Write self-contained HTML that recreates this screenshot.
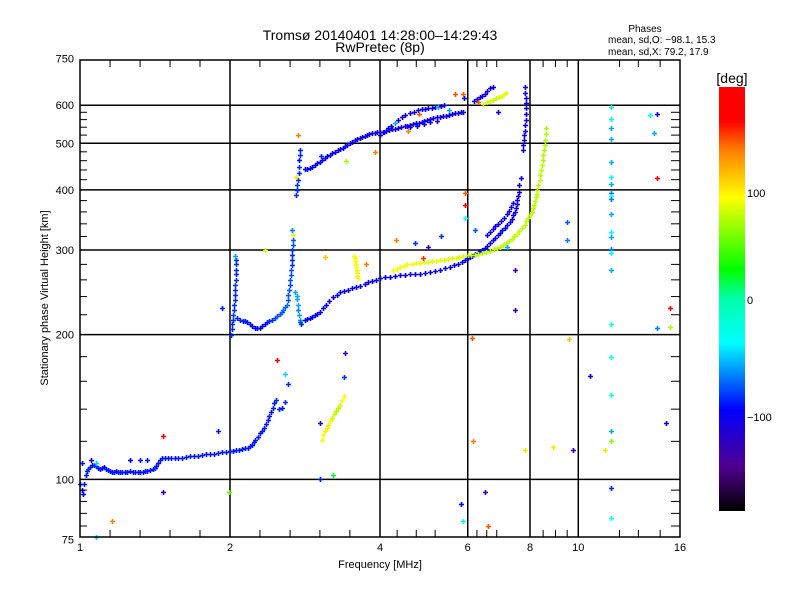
<!DOCTYPE html>
<html><head><meta charset="utf-8"><style>
body{margin:0;background:#fff;}
svg{display:block;font-family:"Liberation Sans",sans-serif;}
</style></head><body>
<svg id="chart" width="800" height="600" viewBox="0 0 800 600" xmlns="http://www.w3.org/2000/svg">
<defs>
<linearGradient id="cbg" x1="0" y1="1" x2="0" y2="0">
<stop offset="0" stop-color="#000000"/>
<stop offset="0.105" stop-color="#500090"/>
<stop offset="0.24" stop-color="#0000ff"/>
<stop offset="0.397" stop-color="#00ffff"/>
<stop offset="0.5" stop-color="#00ffaa"/>
<stop offset="0.57" stop-color="#00ff00"/>
<stop offset="0.74" stop-color="#ffff00"/>
<stop offset="0.85" stop-color="#ff8000"/>
<stop offset="0.92" stop-color="#ff0000"/>
<stop offset="1" stop-color="#ff0000"/>
</linearGradient>
</defs>
<text x="380" y="40" font-size="14" text-anchor="middle">Tromsø 20140401 14:28:00–14:29:43</text>
<text x="380" y="52" font-size="14" text-anchor="middle">RwPretec (8p)</text>
<g font-size="10">
<text x="645" y="32" text-anchor="middle">Phases</text>
<text x="608" y="43">mean, sd,O: −98.1, 15.3</text>
<text x="608" y="55">mean, sd,X:  79.2, 17.9</text>
</g>
<g id="grid"></g>
<g id="points"></g>
<rect x="80" y="60" width="600" height="477" fill="none" stroke="#000" stroke-width="1.5"/>
<g id="axes" font-size="11"></g>
<text x="380" y="568" font-size="11" text-anchor="middle">Frequency [MHz]</text>
<text transform="translate(48,298) rotate(-90)" font-size="11" text-anchor="middle">Stationary phase Virtual Height [km]</text>
<g>
<text x="732" y="83" font-size="14" text-anchor="middle">[deg]</text>
<rect x="719" y="87" width="26" height="424" fill="url(#cbg)"/>
<text x="747" y="197" font-size="11">100</text>
<text x="747" y="304" font-size="11">0</text>
<text x="747" y="421" font-size="11">−100</text>
</g>
</svg>
<script>
const xTicks=[1,2,4,6,8,10,16];
const xMinor=[1.149,1.32,1.516,1.741,2.297,2.64,3.03,3.48,4.33,4.73,5.16,6.26,6.55,6.86,8.5,9,9.5,12.1,13.2,14.6];
const yTicks=[75,100,200,300,400,500,600,750];
const yGrid=[100,200,300,400,500,600];
const yMinor=[80,85,90,95,120,140,160,180,220,240,260,280,320,340,360,380,420,440,460,480,520,540,560,580];
// O-mode traces [MHz, km, phase deg]
const eTrace=[[1.00,97.6,-95],[1.007,95,-100],[1.014,93.4,-100],[1.021,98,-95],[1.028,102,-95],[1.033,104,-95],[1.038,105,-90],[1.047,106,-95],[1.057,107,-95],[1.067,107,-95],[1.077,106.4,-90],[1.087,105.5,-95],[1.097,105,-95],[1.107,105.5,-95],[1.117,106,-100],[1.128,105,-95],[1.138,104.4,-95],[1.148,104,-95],[1.159,103.4,-100],[1.17,103.6,-95],[1.181,103.9,-95],[1.192,103.6,-95],[1.203,103.4,-95],[1.217,103.4,-95],[1.231,103.4,-100],[1.245,103.6,-95],[1.26,103.9,-95],[1.275,103.6,-95],[1.29,103.4,-95],[1.305,103.4,-95],[1.32,103.4,-100],[1.335,103.6,-95],[1.35,103.9,-95],[1.366,104.1,-95],[1.382,104.4,-95],[1.398,104.9,-95],[1.414,105.4,-90],[1.424,106.5,-95],[1.434,108,-95],[1.447,109.5,-95],[1.46,110.6,-95],[1.48,111,-95],[1.50,111,-95],[1.525,111,-95],[1.55,111,-95],[1.575,111,-95],[1.60,111,-95],[1.63,111.3,-95],[1.66,111.6,-95],[1.69,111.8,-95],[1.725,112,-95],[1.757,112.4,-95],[1.79,112.7,-95],[1.825,113,-95],[1.86,113.2,-95],[1.895,113.5,-95],[1.93,113.8,-95],[1.965,114,-95],[2.0,114.3,-95],[2.03,114.6,-95],[2.06,114.9,-95],[2.085,115.1,-95],[2.11,115.4,-95],[2.14,116,-95],[2.17,116.5,-95],[2.19,117.2,-95],[2.21,118,-95],[2.23,119.5,-95],[2.25,121,-95],[2.275,122.8,-95],[2.297,124.6,-95],[2.32,126.3,-95],[2.34,128,-95],[2.36,130.5,-95],[2.38,133,-95],[2.40,135.7,-95],[2.42,138.4,-95],[2.435,141,-95],[2.45,144,-95],[2.47,146.5,-90],[2.51,140,-90],[2.54,141,-95],[2.58,145,-90],[1.26,110,-100],[1.32,110,-95],[1.36,110,-95],[1.47,123,160],[1.89,126,-95],[1.077,108,-50],[1.05,110,-120],[1.01,108,-95]];
const fLow=[[2.01,200,-90],[2.015,205,-90],[2.02,210,-90],[2.025,215,-90],[2.03,220,-85],[2.035,225,-90],[2.04,231,-90],[2.045,236,-90],[2.05,242,-90],[2.05,248,-90],[2.05,254,-85],[2.055,260,-90],[2.06,267,-90],[2.06,273,-90],[2.06,280,-90],[2.055,286,-90],[2.05,292,-60],[1.93,227,-95],[2.07,217,-90],[2.094,215,-90],[2.12,214,-95],[2.14,213,-95],[2.165,212,-95],[2.19,210,-95],[2.215,208,-100],[2.24,206,-100],[2.27,206,-100],[2.297,206,-100],[2.32,208,-100],[2.35,210,-100],[2.375,212,-95],[2.4,213,-90],[2.43,215,-90],[2.46,217,-85],[2.49,219,-80],[2.52,221,-80],[2.54,223,-80],[2.56,225,-75],[2.58,228,-75],[2.6,231,-75],[2.61,236,-80],[2.62,242,-80],[2.63,248,-80],[2.64,254,-85],[2.645,260,-80],[2.65,266,-80],[2.655,272,-80],[2.66,279,-90],[2.66,286,-90],[2.66,293,-90],[2.665,300,-90],[2.67,307,-80],[2.67,315,-80],[2.67,322,85],[2.66,330,-70],[2.70,245,-60],[2.72,241,-60],[2.73,237,-60],[2.735,231,-60],[2.74,225,-70],[2.75,220,-60],[2.76,215,-60],[2.77,212,-80],[2.78,210,-90]];
const fOne=[[2.83,215,-100],[2.86,216,-100],[2.89,217,-100],[2.925,218,-100],[2.96,220,-100],[2.995,221,-100],[3.03,223,-100],[3.07,227,-100],[3.11,231,-100],[3.165,235,-100],[3.22,239,-105],[3.275,242,-105],[3.33,245,-105],[3.39,246,-105],[3.45,248,-105],[3.515,250,-105],[3.58,251,-105],[3.655,253,-105],[3.73,255,-105],[3.79,257,-105],[3.85,259,-105],[3.925,260,-105],[4.0,262,-105],[4.1,263,-105],[4.19,264,-105],[4.29,265,-105],[4.39,266,-105],[4.49,266,-105],[4.59,267,-105],[4.7,267,-105],[4.81,268,-105],[4.92,269,-105],[5.04,270,-105],[5.16,271,-105],[5.28,273,-105],[5.4,275,-105],[5.53,277,-105],[5.63,279,-105],[5.74,281,-105],[5.83,283,-105],[5.93,286,-105],[6.0,288,-105],[6.06,290,-105],[6.13,292,-105],[6.2,294,-105],[6.28,296,-105],[6.35,298,-105],[6.42,300,-105],[6.5,303,-105],[6.57,306,-105],[6.65,310,-105],[6.73,314,-105],[6.81,318,-105],[6.89,322,-105],[6.96,326,-105],[7.04,330,-105],[7.12,333,-105],[7.2,338,-105],[7.29,343,-110],[7.35,348,-110],[7.4,354,-110],[7.45,360,-110],[7.5,366,-110],[7.53,373,-110],[7.55,381,-110],[7.58,388,-110],[7.6,396,-110],[7.6,409,-110],[7.68,423,-110],[6.57,322,-110],[6.65,327,-110],[6.74,332,-110],[6.82,336,-110],[6.91,339,-110],[7.0,345,-110],[7.09,350,-110],[7.18,356,-110],[7.26,362,-110],[7.32,369,-110],[7.38,376,-110]];
const fTwo=[[2.71,390,-90],[2.72,400,-90],[2.73,409,-90],[2.74,420,-90],[2.75,433,-90],[2.75,447,-90],[2.75,461,-95],[2.76,472,-90],[2.77,484,-90],[2.71,426,100],[2.74,520,130],[2.83,442,-100],[2.86,443,-100],[2.89,444,-100],[2.925,447,-100],[2.96,450,-100],[2.995,454,-100],[3.03,458,-105],[3.065,462,-105],[3.1,466,-105],[3.135,470,-105],[3.17,473,-105],[3.21,477,-105],[3.25,480,-105],[3.29,484,-105],[3.33,487,-105],[3.365,490,-105],[3.4,494,-105],[3.44,497,-105],[3.48,500,-110],[3.52,504,-110],[3.56,508,-110],[3.6,511,-110],[3.64,513,-110],[3.685,516,-110],[3.73,518,-110],[3.77,521,-110],[3.81,523,-110],[3.855,524,-110],[3.9,525,-110],[3.95,527,-110],[4.0,528,-110],[4.055,529,-110],[4.11,530,-110],[4.17,533,-110],[4.23,535,-110],[4.29,536,-110],[4.35,537,-110],[4.41,540,-110],[4.48,542,-110],[4.53,544,-110],[4.59,545,-110],[4.65,548,-110],[4.72,551,-110],[4.78,552,-110],[4.85,553,-110],[4.91,556,-110],[4.98,559,-110],[5.05,562,-110],[5.12,564,-110],[5.2,566,-110],[5.28,567,-110],[5.35,569,-110],[5.42,570,-110],[5.5,573,-110],[5.58,575,-110],[5.66,577,-110],[5.74,578,-110],[5.81,580,-110],[5.88,581,-110],[4.0,520,-110],[4.07,528,-110],[4.15,537,-110],[4.21,544,-110],[4.28,550,-60],[4.35,559,-110],[4.42,567,-110],[4.5,573,-110],[4.59,578,-110],[4.67,582,-110],[4.76,585,-100],[4.85,588,-110],[4.93,590,-110],[5.0,592,-110],[5.08,593,-110],[5.15,595,-110],[5.23,596,-60],[5.3,599,-110],[5.38,602,-110],[4.6,540,-110],[4.75,543,-110],[4.9,548,-110],[5.05,553,-110],[5.2,556,-110],[6.17,612,-110],[6.26,618,-110],[6.35,623,-110],[6.42,628,-110],[6.5,634,-110],[6.57,642,-110],[6.65,650,-110],[6.74,656,-110],[7.82,655,-110],[7.83,637,-110],[7.84,620,-110],[7.84,606,-110],[7.84,593,-110],[7.84,576,-110],[7.84,559,-110],[7.82,545,-110],[7.8,531,-110],[7.78,519,-110],[7.77,508,-110],[7.75,496,-110],[7.73,485,-110],[5.66,634,140],[5.88,634,140],[4.55,530,130],[3.42,460,70],[3.9,480,130]];
// X-mode traces
const xTrace=[[6.0,293,75],[6.1,293,75],[6.2,293,75],[6.3,294,75],[6.4,296,75],[6.52,297,75],[6.65,299,75],[6.76,301,75],[6.87,303,75],[6.96,305,75],[7.06,307,75],[7.15,310,75],[7.25,313,75],[7.35,316,75],[7.44,320,75],[7.52,324,75],[7.6,328,75],[7.7,333,75],[7.8,338,75],[7.87,344,75],[7.94,350,75],[8.0,355,75],[8.06,360,75],[8.1,366,75],[8.14,372,75],[8.18,379,75],[8.22,386,75],[8.25,393,75],[8.28,400,75],[8.32,410,75],[8.36,420,75],[8.38,430,75],[8.4,440,75],[8.45,451,75],[8.49,462,70],[8.51,473,70],[8.53,485,70],[8.56,496,70],[8.58,508,70],[8.6,522,70],[8.62,537,70],[4.25,273,90],[4.32,274,90],[4.39,276,90],[4.46,278,90],[4.54,280,90],[4.63,281,90],[4.72,282,85],[4.81,282,85],[4.9,283,85],[4.99,283,85],[5.08,284,85],[5.18,285,85],[5.28,286,85],[5.37,286,85],[5.47,287,85],[5.57,288,85],[5.67,289,85],[5.77,290,85],[5.87,291,85],[4.88,289,150],[3.55,292,90],[3.56,288,90],[3.57,284,90],[3.575,280,90],[3.58,276,90],[3.59,272,95],[3.6,269,95],[3.605,265,95],[3.61,262,95],[6.45,604,80],[6.55,608,80],[6.65,612,80],[6.75,616,80],[6.84,620,80],[6.93,624,80],[7.03,628,85],[7.1,633,85],[7.17,637,85],[3.06,121,90],[3.08,123.5,90],[3.1,126,95],[3.13,128,95],[3.15,130,100],[3.18,132,90],[3.2,134,80],[3.23,136.5,80],[3.26,139,70],[3.3,141,75],[3.33,143,80],[3.36,146,90],[3.39,149,95]];
// scattered echoes
const scatter=[[11.63,595,-45],[11.63,562,-20],[11.63,538,-60],[11.63,510,-60],[11.63,457,-60],[11.63,425,-40],[11.63,412,-60],[11.63,394,-70],[11.63,388,-40],[11.63,383,-70],[11.63,356,-60],[11.63,327,-40],[11.63,319,-60],[11.63,302,-70],[11.63,296,-40],[11.63,272,-60],[11.63,210,-40],[11.63,180,-40],[11.63,150,-40],[11.63,126,-60],[11.63,120,60],[11.3,115,100],[11.63,96,-90],[11.63,83,-40],[13.9,573,-40],[14.4,575,-110],[14.2,524,-60],[14.4,424,160],[15.3,227,160],[14.4,206,-70],[15.3,207,70],[9.5,343,-80],[9.5,315,-70],[9.6,196,110],[10.56,164,-110],[15.0,131,-110],[8.9,117,100],[9.75,115,-130],[5.93,394,140],[5.93,372,170],[5.93,350,-40],[6.13,197,140],[7.47,273,-140],[7.47,225,-140],[7.8,115,100],[5.82,89,-100],[5.88,82,-40],[6.5,94,-130],[6.6,80,140],[6.15,120,130],[2.48,177,165],[2.58,166,-50],[2.61,158,-90],[3.4,183,-130],[3.39,163,-90],[3.03,131,-130],[3.03,100,-95],[3.22,102,20],[1.99,94,50],[1.16,82,130],[1.077,76,-50],[1.47,94,-130],[4.7,310,-90],[5.0,305,-130],[5.3,320,-90],[3.75,280,130],[4.3,315,130],[3.1,290,110],[2.35,300,80],[6.3,610,140],[6.9,580,-110],[5.5,585,-60],[4.8,575,140],[5.9,620,-110],[3.05,470,-90],[7.2,305,-60],[6.2,330,-80]];
const allSeries=[eTrace,fLow,fOne,fTwo,xTrace,scatter];

const X0=80,X1=680,Y0=537,Y1=60,FMIN=1,FMAX=16,HMIN=75.9,HMAX=745;
function xScale(f){return X0+(X1-X0)*Math.log(f/FMIN)/Math.log(FMAX/FMIN);}
function yScale(h){return Y0-(Y0-Y1)*Math.log(h/HMIN)/Math.log(HMAX/HMIN);}
const cmap=[[-190,0,0,0],[-150,80,0,144],[-100,0,0,255],[-40,0,255,255],[0,0,255,170],[27,0,255,0],[92,255,255,0],[130,255,128,0],[160,255,0,0],[190,255,0,0]];
function phaseColor(p){
  if(p<=cmap[0][0])return 'rgb(0,0,0)';
  for(let i=1;i<cmap.length;i++){
    if(p<=cmap[i][0]){const a=cmap[i-1],b=cmap[i],t=(p-a[0])/(b[0]-a[0]);
      return 'rgb('+[1,2,3].map(k=>Math.round(a[k]+(b[k]-a[k])*t)).join(',')+')';}
  }
  return 'rgb(255,0,0)';
}
const NS='http://www.w3.org/2000/svg';
function mk(tag,attrs,parent){const e=document.createElementNS(NS,tag);for(const k in attrs)e.setAttribute(k,attrs[k]);parent.appendChild(e);return e;}
const grid=document.getElementById('grid'),axes=document.getElementById('axes'),pts=document.getElementById('points');
xTicks.forEach(f=>{
  const x=xScale(f);
  if(f>1&&f<16){const l=mk('line',{x1:x,x2:x,y1:Y1,y2:Y0,stroke:'#000','stroke-width':1.5},grid);
    
    }
  const t=mk('text',{x:x,y:Y0+14,'text-anchor':'middle'},axes);t.textContent=f;
  
  
});
xMinor.forEach(f=>{const x=xScale(f);
  const a=mk('line',{x1:x,x2:x,y1:Y0,y2:Y0-7,stroke:'#000','stroke-width':1},axes);
  
  
  const b=mk('line',{x1:x,x2:x,y1:Y1,y2:Y1+7,stroke:'#000','stroke-width':1},axes);
  
  
});
yGrid.forEach(h=>{const y=yScale(h);
  const l=mk('line',{x1:X0,x2:X1,y1:y,y2:y,stroke:'#000','stroke-width':1.5},grid);
  
  
});
yTicks.forEach(h=>{const y=yScale(h);
  const t=mk('text',{x:X0-6,y:y+4,'text-anchor':'end'},axes);t.textContent=h;
  
  
});
yMinor.forEach(h=>{const y=yScale(h);
  const a=mk('line',{x1:X0,x2:X0+7,y1:y,y2:y,stroke:'#000','stroke-width':1},axes);
  
  
  const b=mk('line',{x1:X1,x2:X1-9,y1:y,y2:y,stroke:'#000','stroke-width':1},axes);
  
  
});
allSeries.forEach(s=>s.forEach(d=>{
  const x=Math.round(xScale(d[0]))+0.5,y=Math.round(yScale(d[1]))+0.5,c=phaseColor(d[2]);
  const p=mk('path',{d:'M'+(x-2.5)+' '+y+'h5M'+x+' '+(y-2.5)+'v5',stroke:c,'stroke-width':1.6,fill:'none'},pts);
  
  
}));
</script>
</body></html>
